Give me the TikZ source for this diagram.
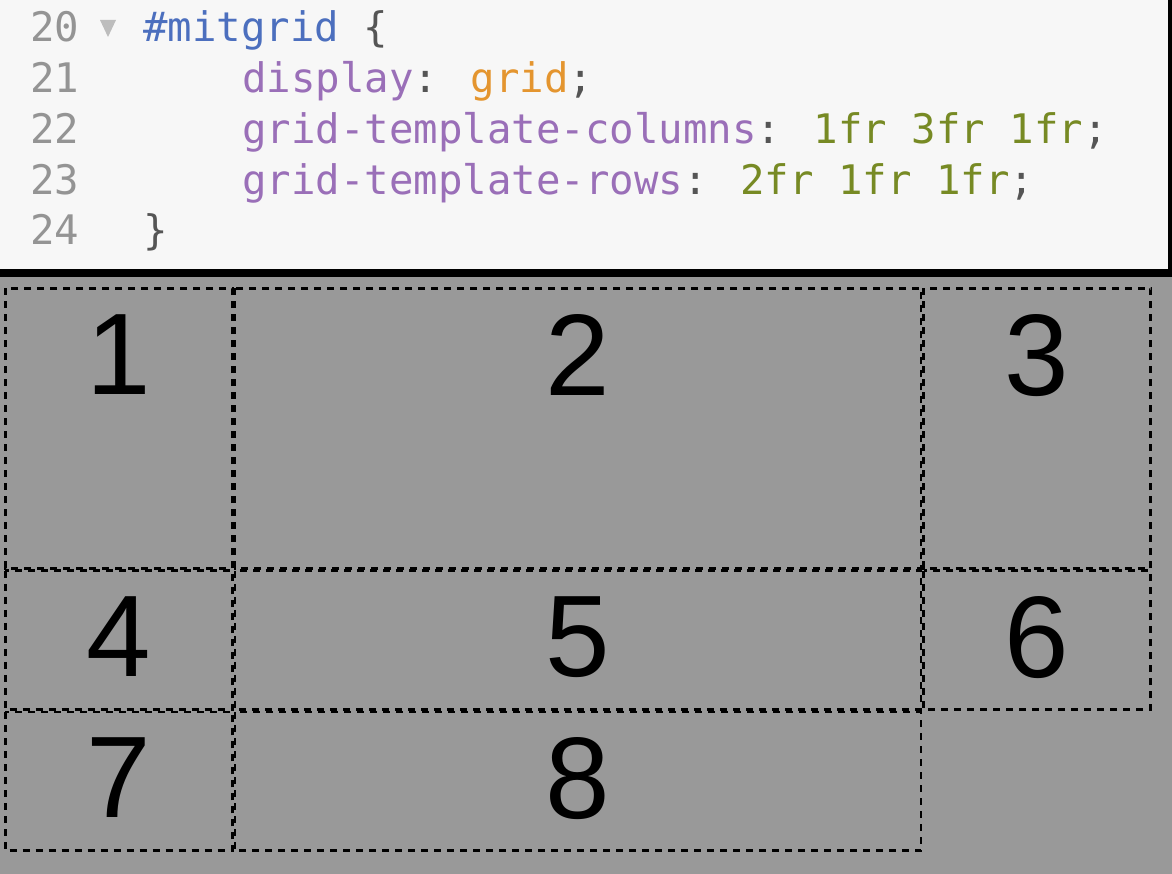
\documentclass[tikz,border=0pt]{standalone}
\usepackage{fontspec}
\setmainfont{Liberation Sans}
\newfontfamily\codefont{DejaVu Sans Mono}
\definecolor{panelbg}{HTML}{F7F7F7}
\definecolor{gridbg}{HTML}{999999}
\definecolor{linenr}{HTML}{949494}
\definecolor{fold}{HTML}{BDBDBD}
\definecolor{selector}{HTML}{4C6FBE}
\definecolor{prop}{HTML}{9A6FB8}
\definecolor{kw}{HTML}{E4952F}
\definecolor{val}{HTML}{778A24}
\definecolor{punct}{HTML}{555555}
\begin{document}
\begin{tikzpicture}[x=1pt, y=-1pt,
  nr/.style = {anchor=base west, inner sep=0, text=linenr, font=\codefont\fontsize{40.7}{48}\selectfont},
  code/.style = {anchor=base west, inner sep=0, text=punct, font=\codefont\fontsize{40.7}{48}\selectfont},
  cell/.style = {draw=black, line width=2.7pt, dash pattern=on 7pt off 6pt},
  num/.style = {anchor=north, inner sep=0, font=\fontsize{116}{116}\selectfont}]
  \useasboundingbox (0,0) rectangle (1172,874);
  % backgrounds
  \fill[black] (0,0) rectangle (1172,277);
  \fill[panelbg] (0,0) rectangle (1168,269);
  \fill[gridbg] (0,277) rectangle (1172,874);
  % code panel
  \node[nr] (l20) at (30,42) {20};
  \node[nr] (l21) at (30,92.75) {21};
  \node[nr] (l22) at (30,143.5) {22};
  \node[nr] (l23) at (30,194.25) {23};
  \node[nr] (l24) at (30,245) {24};
  \fill[fold] (100,20) -- (116,20) -- (108,37) -- cycle;
  \node[code] (c20) at (143,42) {\textcolor{selector}{\#mitgrid} \{};
  \node[code] (c21) at (242,92.75) {\textcolor{prop}{display}: \textcolor{kw}{grid};};
  \node[code] (c22) at (242,143.5) {\textcolor{prop}{grid-template-columns}: \textcolor{val}{1fr 3fr 1fr};};
  \node[code] (c23) at (242,194.25) {\textcolor{prop}{grid-template-rows}: \textcolor{val}{2fr 1fr 1fr};};
  \node[code] (c24) at (143,245) {\}};
  % grid items
  \draw[cell] (5.3,288.3) rectangle (232.3,568.2);
  \draw[cell] (234.9,288.3) rectangle (921.1,568.2);
  \draw[cell] (923.7,288.3) rectangle (1150.7,568.2);
  \draw[cell] (5.3,570.8) rectangle (232.3,709.4);
  \draw[cell] (234.9,570.8) rectangle (921.1,709.4);
  \draw[cell] (923.7,570.8) rectangle (1150.7,709.4);
  \draw[cell] (5.3,712.1) rectangle (232.3,850.7);
  \draw[cell] (234.9,712.1) rectangle (921.1,850.7);
  \node[num] (n1) at (118.8,314) {1};
  \node[num] (n2) at (578,314) {2};
  \node[num] (n3) at (1037.2,314) {3};
  \node[num] (n4) at (118.8,596.5) {4};
  \node[num] (n5) at (578,596.5) {5};
  \node[num] (n6) at (1037.2,596.5) {6};
  \node[num] (n7) at (118.8,737.75) {7};
  \node[num] (n8) at (578,737.75) {8};
\end{tikzpicture}
\end{document}
